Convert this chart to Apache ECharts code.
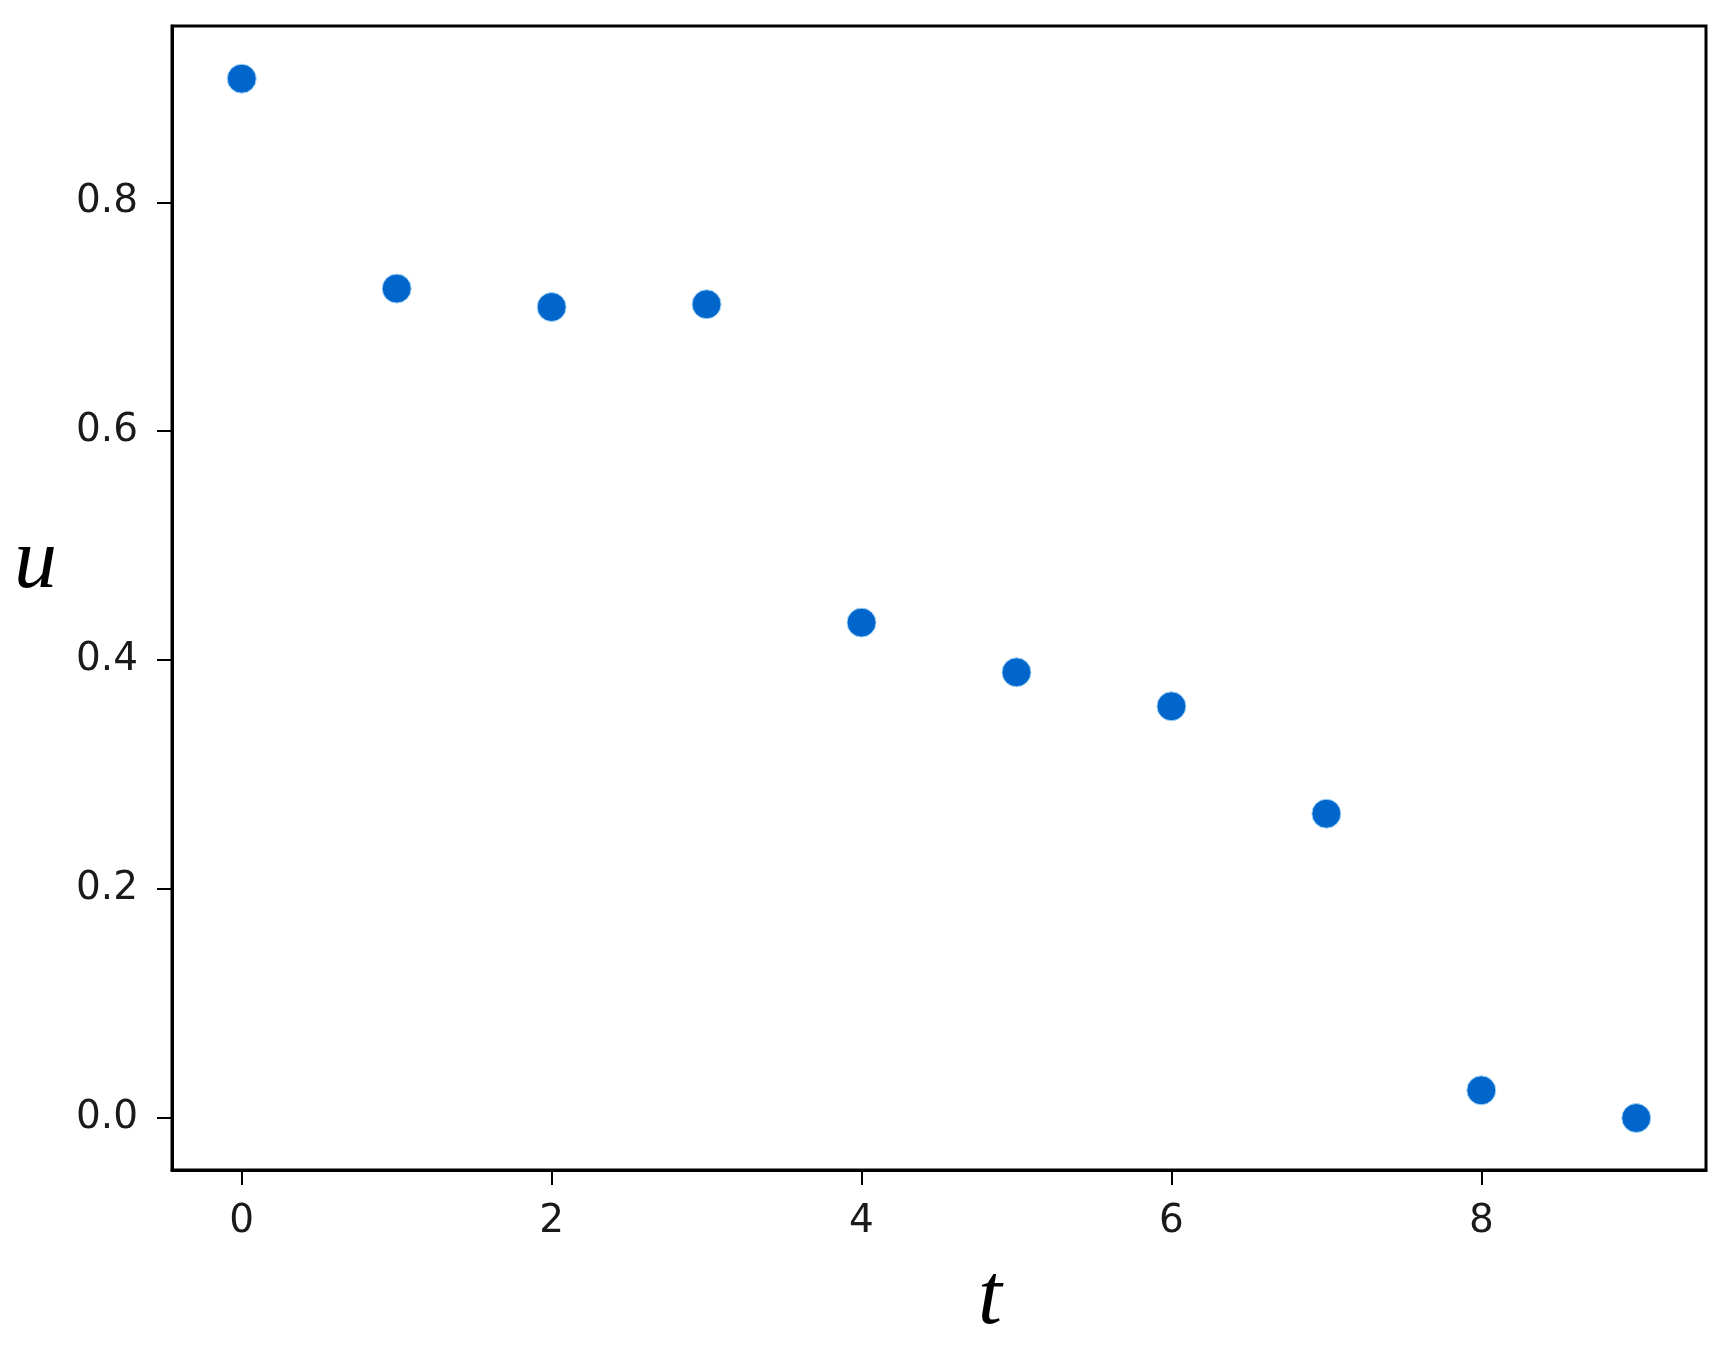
<!DOCTYPE html>
<html>
<head>
<meta charset="utf-8">
<script src="https://cdn.jsdelivr.net/npm/echarts@6/dist/echarts.min.js"></script>
<style>html,body{margin:0;padding:0;background:#fff;}#chart{width:1732px;height:1348px;}</style>
</head>
<body>
<div id="chart"></div>
<script>
const tValues = [0, 1, 2, 3, 4, 5, 6, 7, 8, 9];
const uValues = [0.908, 0.7246, 0.7085, 0.7109, 0.4328, 0.3894, 0.3597, 0.2659, 0.0242, 0.0];
const xTicks = [0, 2, 4, 6, 8];
const yTicks = [0, 0.2, 0.4, 0.6, 0.8];

const chart = echarts.init(document.getElementById('chart'), null, {renderer: 'canvas'});
const labelFont = {fontFamily: 'DejaVu Sans', fontSize: 39, color: '#1a1a1a'};
chart.setOption({
  animation: false,
  backgroundColor: '#ffffff',
  grid: {left: 172, top: 26, right: 26, bottom: 178, show: true, borderColor: '#000', borderWidth: 3, backgroundColor: 'transparent'},
  xAxis: {
    type: 'value', min: -0.45, max: 9.45,
    splitLine: {show: false},
    axisLine: {show: true, onZero: false, lineStyle: {color: '#000', width: 3}},
    axisTick: {show: true, inside: false, length: 15, lineStyle: {color: '#000', width: 2}, customValues: xTicks},
    axisLabel: Object.assign({margin: 32, customValues: xTicks, formatter: v => String(v)}, labelFont)
  },
  yAxis: {
    type: 'value', min: -0.0454, max: 0.954,
    splitLine: {show: false},
    axisLine: {show: true, onZero: false, lineStyle: {color: '#000', width: 3}},
    axisTick: {show: true, inside: false, length: 15, lineStyle: {color: '#000', width: 2}, customValues: yTicks},
    axisLabel: Object.assign({margin: 34, customValues: yTicks, formatter: v => v.toFixed(1)}, labelFont)
  },
  graphic: [
    {type: 'text', left: 14, top: 521, style: {text: 'u', font: 'italic 86px "Liberation Serif"', fill: '#000'}},
    {type: 'text', left: 978, top: 1257, style: {text: 't', font: 'italic 86px "Liberation Serif"', fill: '#000'}}
  ],
  series: [{
    type: 'scatter',
    data: tValues.map((t, i) => [t, uValues[i]]),
    symbol: 'circle',
    symbolSize: 29,
    itemStyle: {color: '#0066cc', opacity: 1, borderColor: '#a8d8f8', borderWidth: 1}
  }]
});
</script>
</body>
</html>
